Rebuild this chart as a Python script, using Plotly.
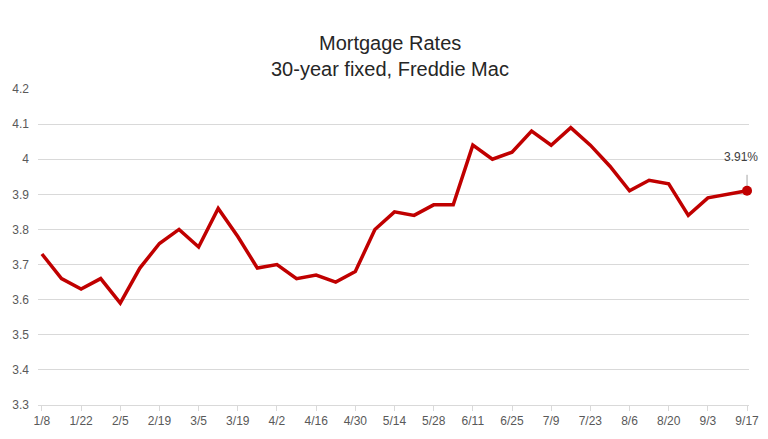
import plotly.graph_objects as go

weeks = ["1/8", "1/15", "1/22", "1/29", "2/5", "2/12", "2/19", "2/26", "3/5", "3/12",
         "3/19", "3/26", "4/2", "4/9", "4/16", "4/23", "4/30", "5/7", "5/14", "5/21",
         "5/28", "6/4", "6/11", "6/18", "6/25", "7/2", "7/9", "7/16", "7/23", "7/30",
         "8/6", "8/13", "8/20", "8/27", "9/3", "9/10", "9/17"]
rates = [3.73, 3.66, 3.63, 3.66, 3.59, 3.69, 3.76, 3.80, 3.75, 3.86,
         3.78, 3.69, 3.70, 3.66, 3.67, 3.65, 3.68, 3.80, 3.85, 3.84,
         3.87, 3.87, 4.04, 4.00, 4.02, 4.08, 4.04, 4.09, 4.04, 3.98,
         3.91, 3.94, 3.93, 3.84, 3.89, 3.90, 3.91]
y_ticks = [3.3, 3.4, 3.5, 3.6, 3.7, 3.8, 3.9, 4.0, 4.1, 4.2]
y_tick_text = ["3.3", "3.4", "3.5", "3.6", "3.7", "3.8", "3.9", "4", "4.1", "4.2"]
title_lines = ["Mortgage Rates", "30-year fixed, Freddie Mac"]

idx = list(range(len(weeks)))
tick_idx = idx[::2]
tick_text = weeks[::2]

FONT = "Liberation Sans, Arial, sans-serif"

fig = go.Figure()
fig.add_trace(go.Scatter(
    x=idx, y=rates, mode="lines",
    line=dict(color="#C00000", width=3.5),
    hoverinfo="x+y", showlegend=False,
))
fig.add_trace(go.Scatter(
    x=[idx[-1]], y=[rates[-1]], mode="markers",
    marker=dict(color="#C00000", size=10),
    showlegend=False, cliponaxis=False,
))
# short vertical leader line above the last point
fig.add_shape(
    type="line", xref="x", yref="y",
    x0=idx[-1], x1=idx[-1],
    ysizemode="pixel", yanchor=rates[-1], y0=4, y1=16,
    line=dict(color="#A6A6A6", width=1), layer="below",
)
fig.add_annotation(
    x=idx[-1], y=rates[-1], xref="x", yref="y",
    text=f"{rates[-1]:.2f}%", showarrow=False,
    xanchor="center", yanchor="bottom", xshift=-6, yshift=25,
    font=dict(family=FONT, size=12, color="#404040"),
)
for line, ypos in zip(title_lines, [1.1456, 1.0633]):
    fig.add_annotation(
        x=0.495, y=ypos, xref="paper", yref="paper",
        text=line, showarrow=False, xanchor="center", yanchor="middle",
        font=dict(family=FONT, size=20, color="#262626"),
    )

fig.update_layout(
    width=760, height=431,
    margin=dict(l=30, r=19, t=81, b=34),
    paper_bgcolor="white", plot_bgcolor="white",
    font=dict(family=FONT, color="#595959", size=12),
    xaxis=dict(
        range=[-0.2, 36.1], automargin=False,
        tickvals=tick_idx, ticktext=tick_text,
        showgrid=False, zeroline=False,
        showline=True, linecolor="#D9D9D9", linewidth=1,
        ticks="outside", ticklen=5, tickcolor="#D9D9D9",
        tickfont=dict(family=FONT, size=12, color="#595959"),
    ),
    yaxis=dict(
        range=[3.3, 4.2], automargin=False,
        tickvals=y_ticks, ticktext=y_tick_text,
        showgrid=True, gridcolor="#D9D9D9", gridwidth=1,
        zeroline=False, showline=False,
        tickfont=dict(family=FONT, size=12, color="#595959"),
        ticklabelstandoff=8,
    ),
)

fig.write_html("out.html")
